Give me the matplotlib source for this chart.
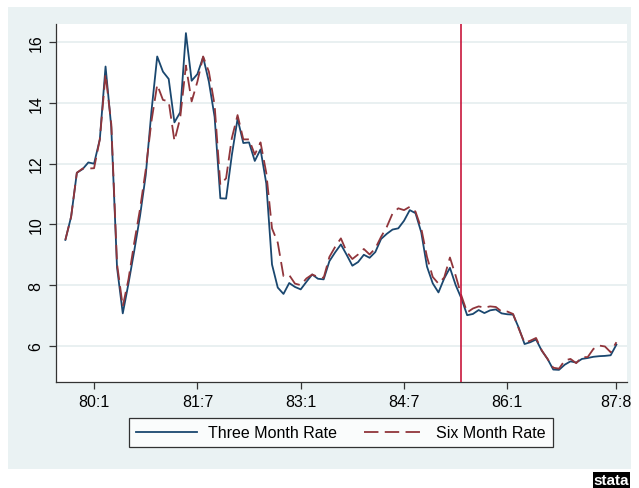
import numpy as np
import matplotlib.pyplot as plt
from matplotlib.lines import Line2D
from matplotlib.patches import Rectangle

plt.rcParams['font.family'] = ['Liberation Sans', 'DejaVu Sans']

# months counted from 80:1 (79:8 = -5 ... 87:8 = 91)
months = np.arange(-5, 92)

three_month = [
    9.49, 10.25, 11.70, 11.82, 12.04,
    12.00, 12.80, 15.20, 13.20, 8.58, 7.07, 8.06, 9.13, 10.27, 11.62, 13.73, 15.53,
    15.03, 14.79, 13.36, 13.69, 16.30, 14.73, 14.95, 15.51, 14.70, 13.54, 10.86, 10.85,
    12.28, 13.48, 12.68, 12.70, 12.09, 12.47, 11.35, 8.68, 7.92, 7.71, 8.07, 7.94,
    7.86, 8.11, 8.35, 8.21, 8.19, 8.79, 9.08, 9.34, 9.00, 8.64, 8.76, 9.00,
    8.90, 9.09, 9.52, 9.69, 9.83, 9.87, 10.12, 10.47, 10.37, 9.74, 8.61, 8.06,
    7.76, 8.22, 8.57, 8.00, 7.56, 7.01, 7.05, 7.18, 7.08, 7.17, 7.20, 7.07,
    7.04, 7.03, 6.59, 6.06, 6.12, 6.21, 5.84, 5.57, 5.22, 5.21, 5.38, 5.49,
    5.45, 5.57, 5.60, 5.64, 5.66, 5.67, 5.69, 6.04,
]

six_month = [
    9.49, 10.25, 11.70, 11.84, 11.84,
    11.85, 12.80, 14.95, 13.30, 8.70, 7.30, 8.20, 9.40, 10.50, 11.80, 13.40, 14.60,
    14.10, 14.05, 12.75, 13.50, 15.23, 14.05, 14.70, 15.53, 15.03, 13.93, 11.30, 11.52,
    12.84, 13.60, 12.80, 12.80, 12.30, 12.70, 11.70, 9.87, 9.40, 8.30, 8.33, 8.05,
    8.00, 8.22, 8.35, 8.27, 8.24, 8.93, 9.26, 9.54, 9.10, 8.86, 9.01, 9.19,
    9.01, 9.21, 9.59, 9.92, 10.36, 10.53, 10.47, 10.58, 10.42, 9.87, 8.93, 8.27,
    8.05, 8.25, 8.91, 8.31, 7.65, 7.10, 7.23, 7.30, 7.26, 7.30, 7.28, 7.13,
    7.13, 7.05, 6.56, 6.10, 6.17, 6.26, 5.85, 5.57, 5.28, 5.25, 5.52, 5.57,
    5.43, 5.63, 5.63, 5.90, 6.01, 5.98, 5.79, 6.12,
]

tick_pos = [0, 18, 36, 54, 72, 91]
tick_labels = ['80:1', '81:7', '83:1', '84:7', '86:1', '87:8']
y_ticks = [6, 8, 10, 12, 14, 16]
break_month = 64  # 85:5

navy = '#1A476F'
maroon = '#90353B'
bg = '#EAF2F3'

fig = plt.figure(figsize=(6.39, 4.89), dpi=100)
fig.patch.set_facecolor('white')
fig.patches.append(Rectangle((8 / 639, 1 - 470 / 489), 623 / 639, 462 / 489,
                             transform=fig.transFigure, facecolor=bg,
                             edgecolor='none', zorder=-10))

ax = fig.add_axes([0.0873, 0.2174, 0.8935, 0.7315])
ax.set_facecolor('white')

ax.plot(months, three_month, color=navy, lw=1.3, zorder=3)
ax.plot(months, six_month, color=maroon, lw=1.3, linestyle=(0, (8, 3.5)), zorder=4)
ax.axvline(break_month, color='#C8163C', lw=1.2, zorder=5)

ax.set_xlim(-6.67, 92.8)
ax.set_ylim(4.82, 16.6)
ax.set_xticks(tick_pos)
ax.set_xticklabels(tick_labels)
ax.set_yticks(y_ticks)
ax.set_yticklabels([str(v) for v in y_ticks], rotation=90, va='center')
ax.tick_params(axis='both', labelsize=11.5, length=5, width=0.9, color='#333333',
               direction='out', pad=4)
ax.grid(axis='y', color='#E3ECEE', lw=1.1, zorder=1)
ax.set_axisbelow(True)

for side in ['top', 'right']:
    ax.spines[side].set_visible(False)
for side in ['left', 'bottom']:
    ax.spines[side].set_color('#333333')
    ax.spines[side].set_linewidth(0.9)

handles = [
    Line2D([], [], color=navy, lw=1.3),
    Line2D([], [], color=maroon, lw=1.3, linestyle=(0, (8, 3.5))),
]
leg = fig.legend(handles, ['Three Month Rate', 'Six Month Rate'], ncol=2,
                 loc='center', bbox_to_anchor=(0.534, 0.113), fontsize=11.5,
                 frameon=True, fancybox=False, handlelength=3.8,
                 handletextpad=0.7, columnspacing=1.7, borderpad=0.45)
leg.get_frame().set_edgecolor('black')
leg.get_frame().set_linewidth(0.9)
leg.get_frame().set_facecolor('white')

fig.text(0.957, 0.017, 'stata', color='white', fontsize=11, fontweight='bold',
         ha='center', va='center',
         bbox=dict(facecolor='black', edgecolor='none', pad=0.8))

fig.savefig('out.png', dpi=100)
